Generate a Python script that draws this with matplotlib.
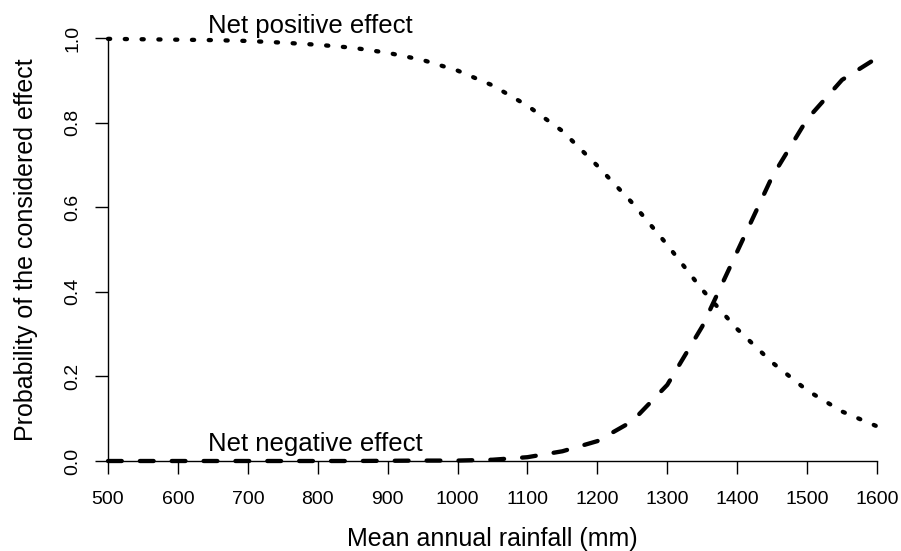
import numpy as np
import matplotlib
matplotlib.use("Agg")
import matplotlib.pyplot as plt

plt.rcParams['font.family'] = ['Liberation Sans', 'DejaVu Sans']

# values
rainfall = [500, 550, 600, 650, 700, 750, 800, 850, 900, 950, 1000, 1050,
            1100, 1150, 1200, 1250, 1300, 1350, 1400, 1450, 1500, 1550, 1600]
p_positive = [0.998, 0.997, 0.996, 0.995, 0.993, 0.989, 0.984, 0.977, 0.965,
              0.948, 0.923, 0.888, 0.840, 0.780, 0.698, 0.610, 0.511, 0.405,
              0.312, 0.233, 0.167, 0.117, 0.082]
p_negative = [0.0, 0.0, 0.0, 0.0, 0.0, 0.0, 0.0, 0.0, 0.0005, 0.001, 0.001,
              0.003, 0.009, 0.023, 0.047, 0.094, 0.180, 0.318, 0.495, 0.672,
              0.808, 0.901, 0.953]

x_ticks = [500, 600, 700, 800, 900, 1000, 1100, 1200, 1300, 1400, 1500, 1600]
y_ticks = [0.0, 0.2, 0.4, 0.6, 0.8, 1.0]

fig = plt.figure(figsize=(9.01, 5.51), dpi=100)
ax = fig.add_axes([108 / 901, 90 / 551, 769 / 901, 423 / 551])

lw = 3.1
ax.plot(rainfall, p_positive, color='black', lw=lw, linestyle=(0, (0.5, 3.4)),
        dash_capstyle='round', clip_on=False)
ax.plot(rainfall, p_negative, color='black', lw=lw, linestyle=(0, (3.2, 4.2)),
        dash_capstyle='round', clip_on=False)

ax.text(643, 1.012, 'Net positive effect', fontsize=18.5, ha='left', va='baseline')
ax.text(643, 0.024, 'Net negative effect', fontsize=18.5, ha='left', va='baseline')

ax.set_xlim(500, 1600)
ax.set_ylim(0, 1)
ax.set_xticks(x_ticks)
ax.set_yticks(y_ticks)
ax.set_xticklabels([str(v) for v in x_ticks])
ax.set_yticklabels([f'{v:.1f}' for v in y_ticks])

for side in ['top', 'right']:
    ax.spines[side].set_visible(False)
for side in ['left', 'bottom']:
    ax.spines[side].set_linewidth(1.0)

ax.tick_params(axis='both', direction='out', length=9.4, width=1.0,
               labelsize=14)
ax.tick_params(axis='x', pad=12)
ax.tick_params(axis='y', labelrotation=90, pad=10)
for lab in ax.get_yticklabels():
    lab.set_va('center')

ax.set_xlabel('Mean annual rainfall (mm)', fontsize=18, labelpad=14)
ax.set_ylabel('Probability of the considered effect', fontsize=18, labelpad=19)

fig.savefig('out.png', dpi=100)
